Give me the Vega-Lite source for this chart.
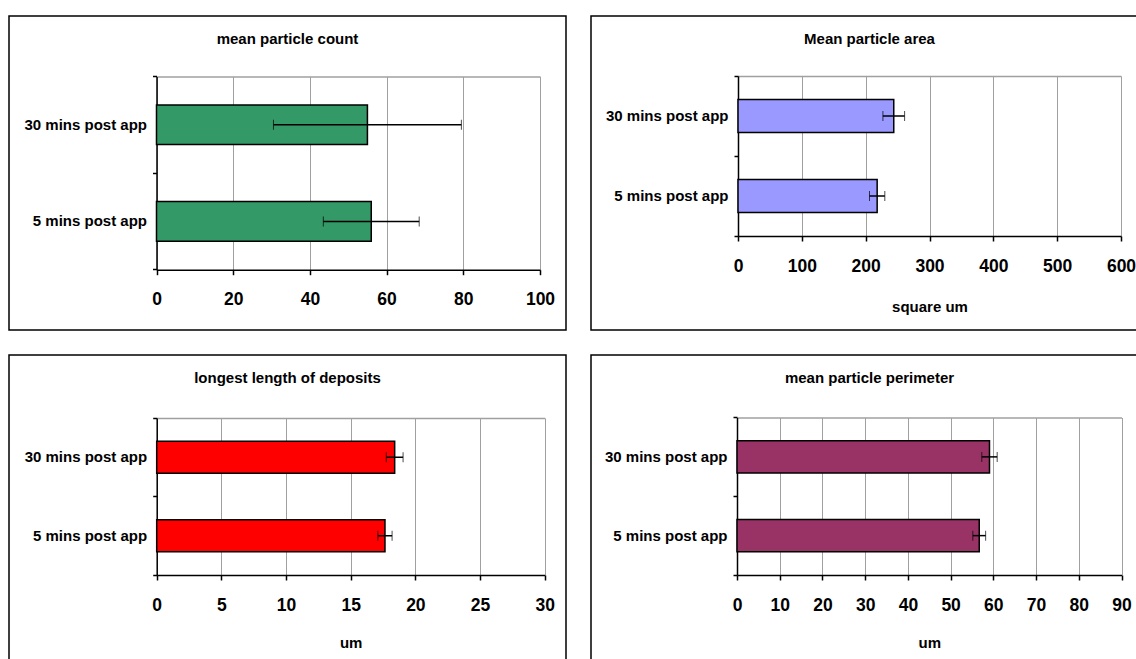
{
  "$schema": "https://vega.github.io/schema/vega-lite/v6.json",
  "background": "white",
  "padding": {"left": 8, "top": 15, "right": 0, "bottom": 0},
  "data": {
    "values": [
      {"measure": "count", "timepoint": "30 mins post app", "mean": 55, "err": 24.5},
      {"measure": "count", "timepoint": "5 mins post app", "mean": 56, "err": 12.5},
      {"measure": "area", "timepoint": "30 mins post app", "mean": 244, "err": 17},
      {"measure": "area", "timepoint": "5 mins post app", "mean": 218, "err": 12},
      {"measure": "length", "timepoint": "30 mins post app", "mean": 18.4, "err": 0.65},
      {"measure": "length", "timepoint": "5 mins post app", "mean": 17.65, "err": 0.55},
      {"measure": "perimeter", "timepoint": "30 mins post app", "mean": 59.1, "err": 1.8},
      {"measure": "perimeter", "timepoint": "5 mins post app", "mean": 56.7, "err": 1.5}
    ]
  },
  "columns": 2,
  "spacing": {"row": 23, "column": 23},
  "concat": [
    {
      "width": 557,
      "height": 314,
      "title": {"text": "mean particle count"},
      "transform": [{"filter": "datum.measure === 'count'"}],
      "layer": [
        {
          "mark": {"type": "bar", "color": "#339966", "stroke": "black", "strokeWidth": 1.5, "height": {"band": 0.41}},
          "encoding": {
            "x": {"field": "mean", "type": "quantitative",
              "scale": {"domain": [0, 100], "range": [147.5, 531], "nice": false},
              "axis": {"orient": "bottom", "offset": -60.3, "values": [0, 20, 40, 60, 80, 100], "grid": false, "title": null}},
            "y": {"field": "timepoint", "type": "nominal",
              "scale": {"domain": ["30 mins post app", "5 mins post app"], "range": [60.4, 253.7], "paddingInner": 0, "paddingOuter": 0},
              "axis": {"orient": "left", "offset": -147.5, "ticks": false, "title": null}}
          }
        },
        {
          "mark": {"type": "errorbar", "ticks": {"size": 10, "color": "black", "strokeWidth": 1.5}, "rule": {"color": "black", "strokeWidth": 1.5}},
          "encoding": {
            "x": {"field": "mean", "type": "quantitative",
              "axis": {"orient": "top", "offset": -60.4, "values": [0, 20, 40, 60, 80, 100], "labels": false, "ticks": false, "grid": true, "domainColor": "#a0a0a0", "title": null}},
            "xError": {"field": "err"},
            "y": {"field": "timepoint", "type": "nominal",
              "axis": {"orient": "left", "offset": -147.5, "labels": false, "domain": false, "ticks": true, "tickSize": 4, "bandPosition": 1, "tickExtra": true, "title": null}}
          }
        }
      ],
      "resolve": {"axis": {"x": "independent", "y": "independent"}}
    },
    {
      "width": 557,
      "height": 314,
      "title": {"text": "Mean particle area"},
      "transform": [{"filter": "datum.measure === 'area'"}],
      "layer": [
        {
          "mark": {"type": "bar", "color": "#9999FF", "stroke": "black", "strokeWidth": 1.5, "height": {"band": 0.41}},
          "encoding": {
            "x": {"field": "mean", "type": "quantitative",
              "scale": {"domain": [0, 600], "range": [147, 530], "nice": false},
              "axis": {"orient": "bottom", "offset": -94, "values": [0, 100, 200, 300, 400, 500, 600], "grid": false, "title": "square um"}},
            "y": {"field": "timepoint", "type": "nominal",
              "scale": {"domain": ["30 mins post app", "5 mins post app"], "range": [60, 220], "paddingInner": 0, "paddingOuter": 0},
              "axis": {"orient": "left", "offset": -147, "ticks": false, "title": null}}
          }
        },
        {
          "mark": {"type": "errorbar", "ticks": {"size": 10, "color": "black", "strokeWidth": 1.5}, "rule": {"color": "black", "strokeWidth": 1.5}},
          "encoding": {
            "x": {"field": "mean", "type": "quantitative",
              "axis": {"orient": "top", "offset": -60, "values": [0, 100, 200, 300, 400, 500, 600], "labels": false, "ticks": false, "grid": true, "domainColor": "#a0a0a0", "title": null}},
            "xError": {"field": "err"},
            "y": {"field": "timepoint", "type": "nominal",
              "axis": {"orient": "left", "offset": -147, "labels": false, "domain": false, "ticks": true, "tickSize": 4, "bandPosition": 1, "tickExtra": true, "title": null}}
          }
        }
      ],
      "resolve": {"axis": {"x": "independent", "y": "independent"}}
    },
    {
      "width": 557,
      "height": 314,
      "title": {"text": "longest length of deposits"},
      "transform": [{"filter": "datum.measure === 'length'"}],
      "layer": [
        {
          "mark": {"type": "bar", "color": "#FF0000", "stroke": "black", "strokeWidth": 1.5, "height": {"band": 0.41}},
          "encoding": {
            "x": {"field": "mean", "type": "quantitative",
              "scale": {"domain": [0, 30], "range": [147.7, 535.7], "nice": false},
              "axis": {"orient": "bottom", "offset": -94, "values": [0, 5, 10, 15, 20, 25, 30], "grid": false, "title": "um", "titlePadding": 22}},
            "y": {"field": "timepoint", "type": "nominal",
              "scale": {"domain": ["30 mins post app", "5 mins post app"], "range": [63, 220], "paddingInner": 0, "paddingOuter": 0},
              "axis": {"orient": "left", "offset": -147.7, "ticks": false, "title": null}}
          }
        },
        {
          "mark": {"type": "errorbar", "ticks": {"size": 10, "color": "black", "strokeWidth": 1.5}, "rule": {"color": "black", "strokeWidth": 1.5}},
          "encoding": {
            "x": {"field": "mean", "type": "quantitative",
              "axis": {"orient": "top", "offset": -63, "values": [0, 5, 10, 15, 20, 25, 30], "labels": false, "ticks": false, "grid": true, "domainColor": "#a0a0a0", "title": null}},
            "xError": {"field": "err"},
            "y": {"field": "timepoint", "type": "nominal",
              "axis": {"orient": "left", "offset": -147.7, "labels": false, "domain": false, "ticks": true, "tickSize": 4, "bandPosition": 1, "tickExtra": true, "title": null}}
          }
        }
      ],
      "resolve": {"axis": {"x": "independent", "y": "independent"}}
    },
    {
      "width": 557,
      "height": 314,
      "title": {"text": "mean particle perimeter"},
      "transform": [{"filter": "datum.measure === 'perimeter'"}],
      "layer": [
        {
          "mark": {"type": "bar", "color": "#993366", "stroke": "black", "strokeWidth": 1.5, "height": {"band": 0.41}},
          "encoding": {
            "x": {"field": "mean", "type": "quantitative",
              "scale": {"domain": [0, 90], "range": [146, 530.5], "nice": false},
              "axis": {"orient": "bottom", "offset": -94, "values": [0, 10, 20, 30, 40, 50, 60, 70, 80, 90], "grid": false, "title": "um", "titlePadding": 22}},
            "y": {"field": "timepoint", "type": "nominal",
              "scale": {"domain": ["30 mins post app", "5 mins post app"], "range": [62.5, 220], "paddingInner": 0, "paddingOuter": 0},
              "axis": {"orient": "left", "offset": -146, "ticks": false, "title": null}}
          }
        },
        {
          "mark": {"type": "errorbar", "ticks": {"size": 10, "color": "black", "strokeWidth": 1.5}, "rule": {"color": "black", "strokeWidth": 1.5}},
          "encoding": {
            "x": {"field": "mean", "type": "quantitative",
              "axis": {"orient": "top", "offset": -62.5, "values": [0, 10, 20, 30, 40, 50, 60, 70, 80, 90], "labels": false, "ticks": false, "grid": true, "domainColor": "#a0a0a0", "title": null}},
            "xError": {"field": "err"},
            "y": {"field": "timepoint", "type": "nominal",
              "axis": {"orient": "left", "offset": -146, "labels": false, "domain": false, "ticks": true, "tickSize": 4, "bandPosition": 1, "tickExtra": true, "title": null}}
          }
        }
      ],
      "resolve": {"axis": {"x": "independent", "y": "independent"}}
    }
  ],
  "config": {
    "view": {"stroke": "black", "strokeWidth": 1.5, "fill": "white"},
    "title": {"font": "Liberation Sans", "fontSize": 15, "fontWeight": "bold", "color": "black", "anchor": "middle", "frame": "group", "baseline": "middle", "offset": -31},
    "axis": {
      "labelFont": "Liberation Sans",
      "labelFontWeight": "bold",
      "labelColor": "black",
      "titleFont": "Liberation Sans",
      "titleFontWeight": "bold",
      "titleFontSize": 15,
      "titleColor": "black",
      "domainColor": "black",
      "domainWidth": 1.5,
      "tickColor": "black",
      "tickWidth": 1.5,
      "gridColor": "#a0a0a0",
      "gridWidth": 1,
      "labelOverlap": false
    },
    "axisX": {"labelFontSize": 17.5, "tickSize": 5, "labelPadding": 25, "labelBaseline": "middle", "titlePadding": 25, "labelFlush": false},
    "axisY": {"labelFontSize": 15, "grid": false, "labelPadding": 10}
  }
}
